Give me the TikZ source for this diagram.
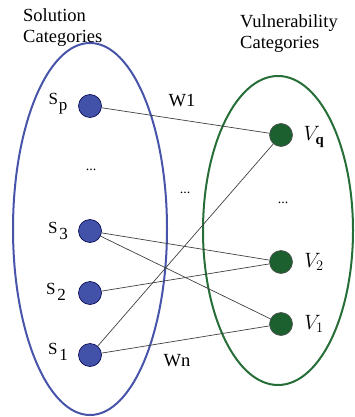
\documentclass[tikz,border=0pt]{standalone}
\usepackage{fontspec}
\setmainfont{Liberation Serif}
\begin{document}
\begin{tikzpicture}[x=1pt,y=-1pt,
  sdot/.style={circle,draw=black!70!blue,line width=0.6pt,fill=solblue,minimum size=23pt,inner sep=0pt},
  vdot/.style={circle,draw=black!70,line width=0.6pt,fill=vulgreen,minimum size=23pt,inner sep=0pt},
  link/.style={draw=black!75,line width=0.7pt},
  ttl/.style={font=\fontsize{18.5}{21}\selectfont,align=left,anchor=north west,inner sep=0pt},
  slabel/.style={font=\fontsize{17}{20}\selectfont,inner sep=0pt},
  vlabel/.style={font=\fontsize{21}{24}\selectfont,inner sep=0pt},
  wlabel/.style={font=\fontsize{18.5}{21}\selectfont,inner sep=0pt},
  dots/.style={font=\fontsize{14}{16}\selectfont,inner sep=0pt}]
\definecolor{solblue}{RGB}{66,82,168}
\definecolor{solring}{RGB}{72,84,170}
\definecolor{vulgreen}{RGB}{28,96,48}
\definecolor{vulring}{RGB}{38,110,55}
\useasboundingbox (0,0) rectangle (354,417);

% category outlines
\draw[solring,line width=2pt] (90,229) ellipse [x radius=77, y radius=186];
\draw[vulring,line width=2pt] (278,230.5) ellipse [x radius=75, y radius=154.5];

% titles
\node[ttl] (soltitle) at (23,8) {Solution\\Categories};
\node[ttl] (vultitle) at (240,14) {Vulnerability\\Categories};

% solution nodes
\node[sdot] (sp) at (90,106) {};
\node[sdot] (s3) at (90,231) {};
\node[sdot] (s2) at (90,293) {};
\node[sdot] (s1) at (90,355) {};

% vulnerability nodes
\node[vdot] (vq) at (281,135) {};
\node[vdot] (v2) at (281,262) {};
\node[vdot] (v1) at (281,324) {};

% links
\draw[link] (sp) -- (vq);
\draw[link] (s3) -- (v2);
\draw[link] (s3) -- (v1);
\draw[link] (s2) -- (v2);
\draw[link] (s1) -- (vq);
\draw[link] (s1) -- (v1);

% node labels
\node[slabel] (lsp) at (58,104) {S\kern1pt\raisebox{-6pt}{p}};
\node[slabel] (ls3) at (58,231) {S\kern2pt\raisebox{-6pt}{3}};
\node[slabel] (ls2) at (56,292) {S\kern2pt\raisebox{-6pt}{2}};
\node[slabel] (ls1) at (58,352) {S\kern2pt\raisebox{-6pt}{1}};
\node[vlabel] (lvq) at (314,137) {$V_{\mathbf{q}}$};
\node[vlabel] (lv2) at (314,262) {$V_2$};
\node[vlabel] (lv1) at (314,324) {$V_1$};

% weights
\node[wlabel] (w1) at (182,101) {W1};
\node[wlabel] (wn) at (177,361) {Wn};

% ellipses
\node[dots] (dl) at (91,170) {...};
\node[dots] (dm) at (185,193) {...};
\node[dots] (dr) at (283,203) {...};
\end{tikzpicture}
\end{document}
